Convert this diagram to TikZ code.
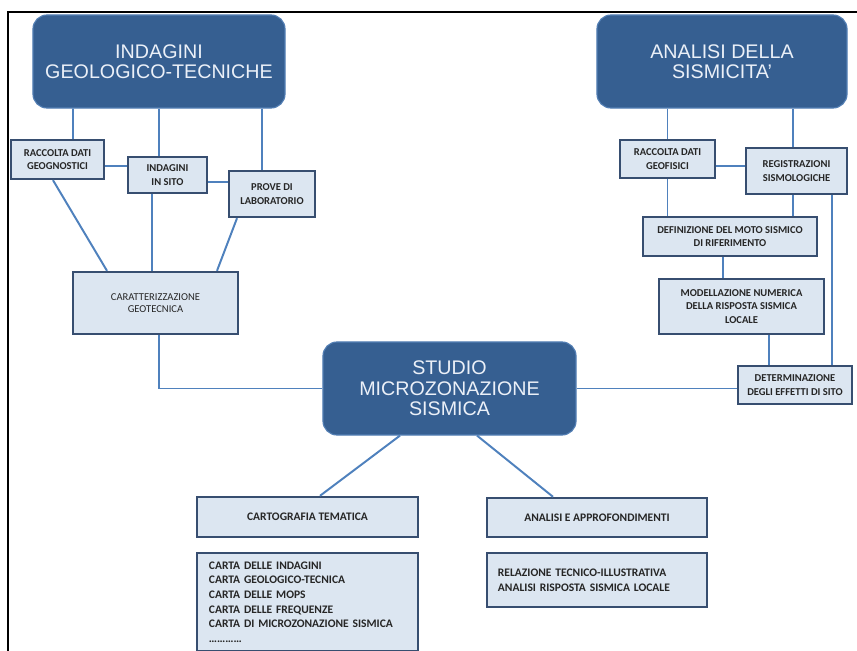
\documentclass[tikz,border=0pt]{standalone}
\usepackage{fontspec}
\setmainfont{Carlito}
\newfontfamily\titlefont{Liberation Sans}
\usetikzlibrary{calc}

\definecolor{headblue}{RGB}{54,95,145}
\definecolor{headedge}{RGB}{82,126,180}
\definecolor{headtext}{RGB}{235,240,248}
\definecolor{leaffill}{RGB}{220,230,241}
\definecolor{leafedge}{RGB}{55,78,112}
\definecolor{linkblue}{RGB}{79,129,189}
\definecolor{leaftext}{RGB}{38,38,38}

\begin{document}
\begin{tikzpicture}[
    x=0.025cm, y=-0.025cm,
    head/.style={draw=headedge, line width=0.8pt, fill=headblue, rounded corners=3.5mm, align=center, text=headtext, inner sep=2pt, font=\titlefont\fontsize{14}{14.5}\selectfont, minimum width=63mm, minimum height=23.25mm},
    leaf/.style={draw=leafedge, line width=1.7pt, fill=leaffill, align=center, text=leaftext, inner sep=2pt, font=\bfseries\fontsize{7.5}{9.4}\selectfont},
    topic/.style={leaf, font=\bfseries\fontsize{8.2}{10.4}\selectfont},
    note/.style={leaf, align=left, inner ysep=2.1mm, font=\bfseries\fontsize{8.2}{10.4}\selectfont},
    link/.style={draw=linkblue, line width=1.4pt},
    frame/.style={draw=black, line width=1.2pt}
]
\clip (0,0) rectangle (857,651);

\draw[frame] (8,670) -- (8,12) -- (870,12);

\node[head] (ind) at (159,61.5) {INDAGINI\\GEOLOGICO-TECNICHE};
\node[head, minimum width=62.5mm] (ana) at (722,61.5) {ANALISI DELLA\\SISMICITA’};
\node[head, minimum width=63.25mm] (studio) at (449.5,388.5) {STUDIO\\MICROZONAZIONE\\SISMICA};

\node[leaf, minimum width=23.25mm, minimum height=9.75mm] (rac) at (57.5,159.5) {RACCOLTA DATI\\GEOGNOSTICI};
\node[leaf, minimum width=19.75mm, minimum height=9mm] (sito) at (167.5,175) {INDAGINI\\IN SITO};
\node[leaf, minimum width=21.5mm, minimum height=11.5mm] (prove) at (272,194) {PROVE DI\\LABORATORIO};
\node[leaf, font=\fontsize{7.5}{9}\selectfont, minimum width=41.25mm, minimum height=15.5mm] (car) at (155.5,303) {CARATTERIZZAZIONE\\GEOTECNICA};

\node[leaf, minimum width=23.75mm, minimum height=9.5mm] (raf) at (667.5,159) {RACCOLTA DATI\\GEOFISICI};
\node[leaf, minimum width=25.25mm, minimum height=11.5mm] (reg) at (796.5,171) {REGISTRAZIONI\\SISMOLOGICHE};
\node[leaf, minimum width=43.5mm, minimum height=9.75mm] (def) at (730,236.5) {DEFINIZIONE DEL MOTO SISMICO\\DI RIFERIMENTO};
\node[leaf, minimum width=41.25mm, minimum height=13.75mm] (mod) at (741.5,306.5) {MODELLAZIONE NUMERICA\\DELLA RISPOSTA SISMICA\\LOCALE};
\node[leaf, minimum width=28.5mm, minimum height=9.5mm] (det) at (795,385) {DETERMINAZIONE\\DEGLI EFFETTI DI SITO};

\node[topic, minimum width=55.25mm, minimum height=10mm] (carto) at (307.5,517) {CARTOGRAFIA TEMATICA};
\node[topic, minimum width=55mm, minimum height=9.75mm] (appr) at (597,517.5) {ANALISI E APPROFONDIMENTI};

\node[note, anchor=north, inner xsep=3mm, text width=49.25mm] (carte) at (307.5,552) {
    CARTA DELLE INDAGINI\\
    CARTA GEOLOGICO-TECNICA\\
    CARTA DELLE MOPS\\
    CARTA DELLE FREQUENZE\\
    CARTA DI MICROZONAZIONE SISMICA\\
    …………
};
\node[note, inner xsep=2.75mm, text width=49.5mm, minimum height=13.5mm] (rel) at (597,580) {
    RELAZIONE TECNICO-ILLUSTRATIVA\\
    ANALISI RISPOSTA SISMICA LOCALE
};

\draw[link] ($(ind.south)+(-86,0)$) -- ($(rac.north)+(15.5,0)$);
\draw[link] (ind.south) -- ($(sito.north)+(-8.5,0)$);
\draw[link] ($(ind.south)+(103,0)$) -- ($(prove.north)+(-10,0)$);
\draw[link] ($(rac.east)+(0,6.5)$) -- ($(sito.west)+(0,-9)$);
\draw[link] ($(sito.east)+(0,7)$) -- ($(prove.west)+(0,-12)$);
\draw[link] ($(rac.south)+(-4.5,0)$) -- ($(car.north)+(-48.5,0)$);
\draw[link] ($(sito.south)+(-15.5,0)$) -- ($(car.north)+(-3.5,0)$);
\draw[link] ($(prove.south)+(-35,0)$) -- ($(car.north)+(61.5,0)$);
\draw[link] ($(car.south)+(3.5,0)$) |- (studio.west);

\draw[link] (raf.north) -- (raf.north |- ana.south);
\draw[link] ($(reg.north)+(-3.5,0)$) -- ($(ana.south)+(71,0)$);
\draw[link] ($(raf.east)+(0,7)$) -- ($(reg.west)+(0,-5)$);
\draw[link] (raf.south) -- (raf.south |- def.north);
\draw[link] ($(reg.south)+(-3.5,0)$) -- ($(def.north)+(63,0)$);
\draw[link] ($(reg.south)+(35.5,0)$) -- ($(det.north)+(37,0)$);
\draw[link] ($(def.south)+(-7,0)$) -- ($(mod.north)+(-18.5,0)$);
\draw[link] ($(mod.south)+(27.5,0)$) -- ($(det.north)+(-26,0)$);
\draw[link] (studio.east) -- (studio.east -| det.west);

\draw[link] ($(studio.south)+(-49.5,0)$) -- ($(carto.north)+(12.5,0)$);
\draw[link] ($(studio.south)+(27.5,0)$) -- ($(appr.north)+(-44,0)$);

\end{tikzpicture}
\end{document}
